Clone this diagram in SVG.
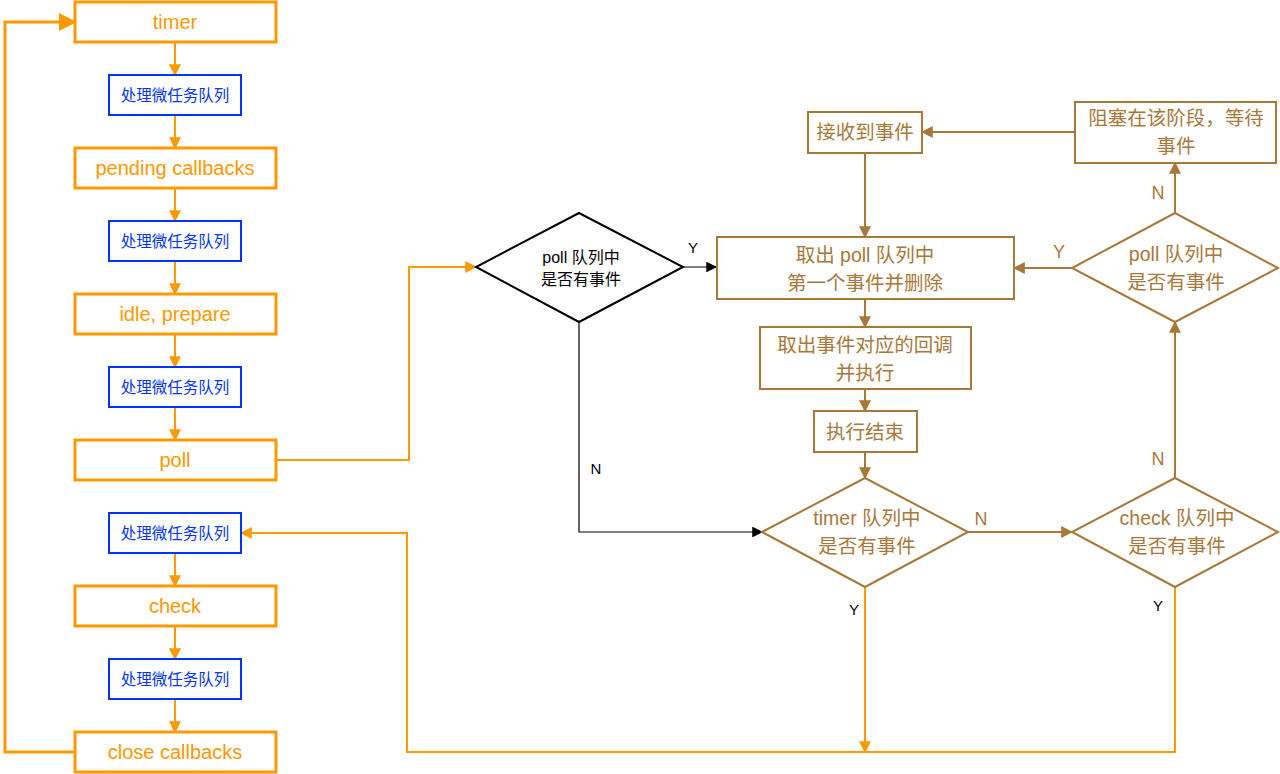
<svg xmlns="http://www.w3.org/2000/svg" width="1280" height="774" viewBox="0 0 1280 774">
<defs>
<style>
text{font-family:"Liberation Sans","Noto Sans CJK SC",sans-serif;text-anchor:middle;dominant-baseline:central}
.ob{fill:#fff;stroke:#FF9900;stroke-width:3}
.ot{fill:#FF9900;font-size:20px}
.bb{fill:#fff;stroke:#0033FF;stroke-width:2}
.bt{fill:#0033FF;font-size:15.5px}
.br{fill:#fff;stroke:#A8783A;stroke-width:2}
.brt{fill:#A8783A;font-size:19.5px}
.kd{fill:#fff;stroke:#000;stroke-width:2}
.kt{fill:#000;font-size:16px}
.lbl{fill:#000;font-size:15px}
.bl{fill:#A8783A;font-size:18px}
.oc{fill:none;stroke:#FF9900;stroke-width:2;marker-end:url(#ao)}
.bc{fill:none;stroke:#A8783A;stroke-width:2;marker-end:url(#ab)}
.kc{fill:none;stroke:#000;stroke-width:1.2;marker-end:url(#ak)}
</style>
<marker id="ao" viewBox="0 0 10 10" refX="9" refY="5" markerWidth="6" markerHeight="6" markerUnits="strokeWidth" orient="auto"><path d="M0,0 L10,5 L0,10 Z" fill="#FF9900"/></marker>
<marker id="ab" viewBox="0 0 10 10" refX="9" refY="5" markerWidth="6" markerHeight="6" markerUnits="strokeWidth" orient="auto"><path d="M0,0 L10,5 L0,10 Z" fill="#A8783A"/></marker>
<marker id="ak" viewBox="0 0 10 10" refX="9" refY="5" markerWidth="9" markerHeight="9" markerUnits="strokeWidth" orient="auto"><path d="M0,0 L10,5 L0,10 Z" fill="#000"/></marker>
</defs>
<rect width="1280" height="774" fill="#fff"/>

<g id="connectors">
<path class="oc" d="M175,42 V75"/>
<path class="oc" d="M175,115 V148"/>
<path class="oc" d="M175,188 V221"/>
<path class="oc" d="M175,261 V294"/>
<path class="oc" d="M175,334 V367"/>
<path class="oc" d="M175,407 V440"/>
<path class="oc" d="M175,553 V586"/>
<path class="oc" d="M175,626 V659"/>
<path class="oc" d="M175,699 V732"/>
<path class="oc" style="stroke-width:3" d="M75,752 H5 V22 H75"/>
<path class="oc" d="M276,460 H409 V267 H476"/>
<path class="kc" d="M683,267 H716"/>
<path class="kc" d="M579,322 V532 H762"/>
<path class="bc" d="M865,153 V237"/>
<path class="bc" d="M1075,132 H922"/>
<path class="bc" d="M1175,213 V163"/>
<path class="bc" d="M1072,268 H1014"/>
<path class="bc" d="M865,299 V327"/>
<path class="bc" d="M865,389 V411"/>
<path class="bc" d="M865,452 V478"/>
<path class="bc" d="M968,532 H1072"/>
<path class="bc" d="M1175,478 V322"/>
<path class="oc" d="M865,587 V752"/>
<path class="oc" d="M1175,587 V752 H407 V533 H241"/>
<text class="lbl" x="693" y="247">Y</text>
<text class="lbl" x="596" y="468">N</text>
<text class="lbl" x="854" y="609">Y</text>
<text class="lbl" x="1158" y="605">Y</text>
<text class="bl" x="1059" y="252">Y</text>
<text class="bl" x="1158" y="193">N</text>
<text class="bl" x="981" y="519">N</text>
<text class="bl" x="1158" y="459">N</text>
</g>

<g id="timer"><rect class="ob" x="75" y="2" width="201" height="40"/><text class="ot" x="175" y="22">timer</text></g>
<g id="micro1"><rect class="bb" x="109" y="75" width="132" height="40"/><text class="bt" x="175" y="95">处理微任务队列</text></g>
<g id="pending"><rect class="ob" x="75" y="148" width="201" height="40"/><text class="ot" x="175" y="168">pending callbacks</text></g>
<g id="micro2"><rect class="bb" x="109" y="221" width="132" height="40"/><text class="bt" x="175" y="241">处理微任务队列</text></g>
<g id="idle"><rect class="ob" x="75" y="294" width="201" height="40"/><text class="ot" x="175" y="314">idle, prepare</text></g>
<g id="micro3"><rect class="bb" x="109" y="367" width="132" height="40"/><text class="bt" x="175" y="387">处理微任务队列</text></g>
<g id="poll"><rect class="ob" x="75" y="440" width="201" height="40"/><text class="ot" x="175" y="460">poll</text></g>
<g id="micro4"><rect class="bb" x="109" y="513" width="132" height="40"/><text class="bt" x="175" y="533">处理微任务队列</text></g>
<g id="check"><rect class="ob" x="75" y="586" width="201" height="40"/><text class="ot" x="175" y="606">check</text></g>
<g id="micro5"><rect class="bb" x="109" y="659" width="132" height="40"/><text class="bt" x="175" y="679">处理微任务队列</text></g>
<g id="close"><rect class="ob" x="75" y="732" width="201" height="40"/><text class="ot" x="175" y="752">close callbacks</text></g>

<g id="pollDecision"><path class="kd" d="M579,213 L683,267 L579,322 L476,267 Z"/><text class="kt" x="581" y="257">poll 队列中</text><text class="kt" x="581" y="279">是否有事件</text></g>

<g id="takeFirst"><rect class="br" x="717" y="237" width="297" height="62"/><text class="brt" x="865" y="255">取出 poll 队列中</text><text class="brt" x="865" y="283">第一个事件并删除</text></g>
<g id="receive"><rect class="br" x="808" y="112" width="114" height="41"/><text class="brt" x="865" y="132">接收到事件</text></g>
<g id="block"><rect class="br" x="1075" y="102" width="201" height="61"/><text class="brt" x="1176" y="118">阻塞在该阶段，等待</text><text class="brt" x="1176" y="146">事件</text></g>
<g id="pollDecision2"><path class="br" d="M1175,213 L1278,268 L1175,322 L1072,268 Z"/><text class="brt" x="1176" y="254">poll 队列中</text><text class="brt" x="1176" y="282">是否有事件</text></g>
<g id="runCallback"><rect class="br" x="760" y="327" width="211" height="62"/><text class="brt" x="865" y="345">取出事件对应的回调</text><text class="brt" x="865" y="373">并执行</text></g>
<g id="done"><rect class="br" x="814" y="411" width="103" height="41"/><text class="brt" x="865" y="432">执行结束</text></g>
<g id="timerDecision"><path class="br" d="M865,478 L968,532 L865,587 L762,532 Z"/><text class="brt" x="867" y="518">timer 队列中</text><text class="brt" x="867" y="546">是否有事件</text></g>
<g id="checkDecision"><path class="br" d="M1175,478 L1278,532 L1175,587 L1072,532 Z"/><text class="brt" x="1177" y="518">check 队列中</text><text class="brt" x="1177" y="546">是否有事件</text></g>
</svg>
